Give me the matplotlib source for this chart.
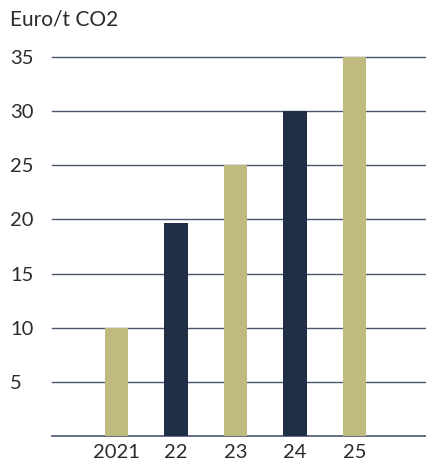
import matplotlib.pyplot as plt

# Datos
years = ["2021", "22", "23", "24", "25"]
prices = [10, 19.7, 25, 30, 35]
colors = ["#bfba7e", "#202f45", "#bfba7e", "#202f45", "#bfba7e"]
yticks = [5, 10, 15, 20, 25, 30, 35]

plt.rcParams['font.family'] = ['Lato', 'DejaVu Sans']

fig = plt.figure(figsize=(4.26, 4.68), dpi=100, facecolor='white')
ax = fig.add_axes([0.122, 0.0684, 0.878, 0.81])

# Lineas de referencia
for v in [0] + yticks:
    ax.axhline(v, color="#4a5570", linewidth=1.2 if v == 0 else 1.0, zorder=1, clip_on=False)

x = range(len(years))
ax.bar(x, prices, width=0.39, color=colors, zorder=2)

ax.set_xlim(-1.084, 5.2)
ax.set_ylim(0, 35)
ax.set_xticks(list(x))
ax.set_xticklabels(years)
ax.set_yticks(yticks)
ax.set_yticklabels([str(v) for v in yticks])
ax.tick_params(axis='both', length=0, labelsize=14.5, labelcolor="#2b2b2b")
ax.tick_params(axis='x', pad=6)
ax.tick_params(axis='y', pad=30)
for lbl in ax.get_yticklabels():
    lbl.set_horizontalalignment('left')
for s in ax.spines.values():
    s.set_visible(False)

fig.text(10 / 426, 1 - 20 / 468, "Euro/t CO2", fontsize=15, color="#2b2b2b",
         ha='left', va='center')

plt.savefig("out.png", dpi=100, facecolor='white')
